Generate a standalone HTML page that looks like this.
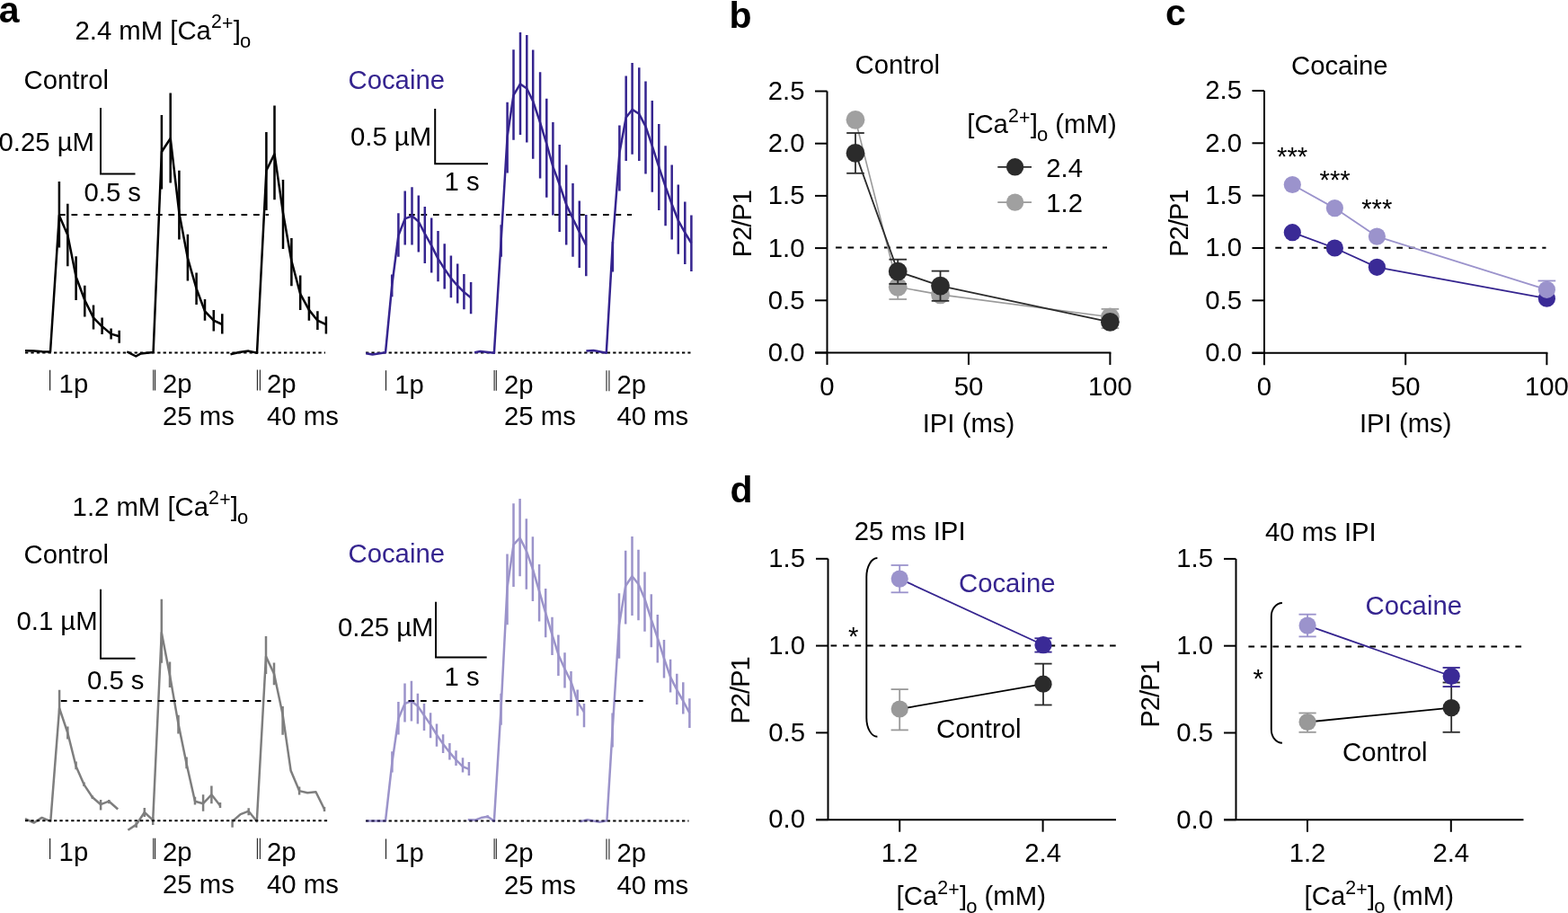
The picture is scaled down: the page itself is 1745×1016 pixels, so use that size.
<!DOCTYPE html>
<html><head><meta charset="utf-8"><title>Figure</title>
<style>
html,body{margin:0;padding:0;background:#fff;}
body{width:1745px;height:1016px;overflow:hidden;}
svg{display:block;}
text{font-family:"Liberation Sans", sans-serif;font-size:29.3px;}
</style></head>
<body>
<svg width="1745" height="1016" viewBox="0 0 1745 1016">
<rect width="1745" height="1016" fill="#fff"/>
<text x="-1.3" y="24.6" style="font-size:41px" font-weight="bold">a</text>
<text x="83.5" y="43.7">2.4 mM [Ca<tspan dy="-12.3" style="font-size:21.3px">2<tspan dx="0.3" dy="2">+</tspan></tspan><tspan dx="0.2" dy="10.3">]</tspan><tspan dx="-0.9" dy="9.2" style="font-size:22px">o</tspan><tspan dy="-9.2"></tspan></text>
<text x="26.5" y="99">Control</text>
<text x="-1.5" y="167.5">0.25 µM</text>
<path d="M112 120V193.5H150.5" fill="none" stroke="#000" stroke-width="2"/>
<text x="93.5" y="224.4">0.5 s</text>
<line x1="66" y1="239" x2="299" y2="239" stroke="#000" stroke-width="2" stroke-dasharray="6.7 6.8"/>
<line x1="28" y1="392.6" x2="362" y2="392.6" stroke="#000" stroke-width="2" stroke-dasharray="3.3 3.1"/>
<polyline points="28,390.3 38,390.6 47,391.3 56,391.5 65.9,239.8 75.3,261.5 84.6,308 94.3,334 104,353.6 113.6,363.3 123.6,371.6 132.7,374.2" fill="none" stroke="#000" stroke-width="2.5" stroke-linejoin="round"/>
<path d="M65.9 202V275.6 M75.3 226.8V296.2 M84.6 285.3V334 M94.3 317.8V352.5 M104 339.5V366.6 M113.6 353.6V372 M123.6 365.5V377.4 M132.7 367.7V381.8" stroke="#000" stroke-width="2.5" fill="none"/>
<polyline points="141.3,391.3 151.3,396.5 156.8,393.4 170.6,391.9 179.9,169 189.7,154 199.4,237 208.9,287.3 218.6,321.2 228,346.3 237.8,356.7 247.3,361" fill="none" stroke="#000" stroke-width="2.5" stroke-linejoin="round"/>
<path d="M179.9 128V210.5 M189.7 103.5V203.5 M199.4 189.8V266.6 M208.9 260.7V312.4 M218.6 303.5V339 M228 333V356.7 M237.8 344.9V368.5 M247.3 349.3V371.4" stroke="#000" stroke-width="2.5" fill="none"/>
<polyline points="256.5,394.2 266,392 276.6,390.6 286,392.7 296.4,189.8 305.5,171.4 315,237 324.4,290.2 334.2,327.1 343.9,344.9 353.4,356.7 362.9,361.1" fill="none" stroke="#000" stroke-width="2.5" stroke-linejoin="round"/>
<path d="M296.4 146.9V234 M305.5 117.4V222.3 M315 200V276.9 M324.4 265V318.3 M334.2 306.5V344.9 M343.9 330V356.7 M353.4 346.3V367 M362.9 352.2V371.4" stroke="#000" stroke-width="2.5" fill="none"/>
<text x="387.5" y="99" fill="#35248f">Cocaine</text>
<text x="390" y="161.9">0.5 µM</text>
<path d="M484.2 121V182.3H543" fill="none" stroke="#000" stroke-width="2"/>
<text x="494.5" y="211.5">1 s</text>
<line x1="455" y1="238.9" x2="703" y2="238.9" stroke="#000" stroke-width="2" stroke-dasharray="6.7 6.8"/>
<line x1="407" y1="392.6" x2="768.5" y2="392.6" stroke="#000" stroke-width="2" stroke-dasharray="3.3 3.1"/>
<polyline points="407.2,393.3 414.5,394.4 429,392.3 436.2,317.9 443.4,262 450.7,243.4 458.5,240.3 465.8,246.5 472.8,260 480.2,273.4 487.5,287.9 494.7,299.3 501.9,309.6 509.2,317.9 516.4,325.1 524.1,331.3" fill="none" stroke="#35248f" stroke-width="2.5" stroke-linejoin="round"/>
<path d="M436.2 305.5V330.3 M443.4 237.2V285.8 M450.7 212.4V272.4 M458.5 208.3V272.4 M465.8 217.6V280.6 M472.8 230V293 M480.2 242.4V303.4 M487.5 256.9V313.3 M494.7 271.3V321.6 M501.9 284.4V331.3 M509.2 293.5V337.5 M516.4 305V344.3 M524.1 314.1V349.3" stroke="#35248f" stroke-width="2.5" fill="none"/>
<polyline points="528.1,392.2 534.4,391 549.9,392.8 557.7,267 564.6,152.1 571.5,105.8 579,93.4 586.3,98.5 593.2,112.7 601.1,136.4 608.3,160 615.4,185.6 622.7,205.3 630.2,227.5 637.5,243.3 644.8,258.1 652.3,272.9" fill="none" stroke="#35248f" stroke-width="2.5" stroke-linejoin="round"/>
<path d="M557.7 250.2V285.7 M564.6 113.7V192.5 M571.5 55.2V155.7 M579 35.9V150.1 M586.3 38.9V158.4 M593.2 55.6V176.7 M601.1 80.2V198.4 M608.3 109.8V219.7 M615.4 136V239.4 M622.7 161V258.1 M630.2 183.6V272.5 M637.5 204V285.7 M644.8 223.6V298 M652.3 239V307.3" stroke="#35248f" stroke-width="2.5" fill="none"/>
<polyline points="652.4,390.5 660.5,389.9 674.8,392.8 681.9,270 689.4,170.1 696.7,130.8 703.6,121.9 711.3,126.8 718.5,140.6 725.8,162.3 733.3,185.9 740.6,207.6 747.7,227.3 754.8,245.3 762.3,259 769.4,270.5" fill="none" stroke="#35248f" stroke-width="2.5" stroke-linejoin="round"/>
<path d="M681.9 268.9V302.4 M689.4 139.6V212.5 M696.7 84.5V179 M703.6 70.1V171.7 M711.3 75.2V179 M718.5 90.4V193.4 M725.8 112V213.7 M733.3 138V234 M740.6 162.3V251.2 M747.7 183.5V266.6 M754.8 205.5V282.7 M762.3 224.6V294.1 M769.4 239.4V302" stroke="#35248f" stroke-width="2.5" fill="none"/>
<line x1="55.6" y1="411.8" x2="55.6" y2="434.6" stroke="#222" stroke-width="1.2"/>
<text x="65.6" y="436.6">1p</text>
<line x1="170.7" y1="411.4" x2="170.7" y2="434.6" stroke="#222" stroke-width="1.1"/>
<line x1="172.6" y1="411.4" x2="172.6" y2="434.6" stroke="#222" stroke-width="1.1"/>
<text x="181" y="436.6">2p</text>
<text x="181" y="473">25 ms</text>
<line x1="286.4" y1="411.4" x2="286.4" y2="434.6" stroke="#222" stroke-width="1.1"/>
<line x1="289.4" y1="411.4" x2="289.4" y2="434.6" stroke="#222" stroke-width="1.1"/>
<text x="297" y="436.6">2p</text>
<text x="297" y="473">40 ms</text>
<line x1="429.5" y1="412.2" x2="429.5" y2="434.6" stroke="#222" stroke-width="1.2"/>
<text x="439.3" y="437.5">1p</text>
<line x1="550.1" y1="412" x2="550.1" y2="434.7" stroke="#222" stroke-width="1.1"/>
<line x1="552.3" y1="412" x2="552.3" y2="434.7" stroke="#222" stroke-width="1.1"/>
<text x="561" y="437.5">2p</text>
<text x="561" y="473.2">25 ms</text>
<line x1="675" y1="412.2" x2="675" y2="435.2" stroke="#222" stroke-width="1.1"/>
<line x1="677.9" y1="412.2" x2="677.9" y2="435.2" stroke="#222" stroke-width="1.1"/>
<text x="686.4" y="437.5">2p</text>
<text x="686.4" y="473.2">40 ms</text>
<text x="80.6" y="573.75">1.2 mM [Ca<tspan dy="-12.3" style="font-size:21.3px">2<tspan dx="0.3" dy="2">+</tspan></tspan><tspan dx="0.2" dy="10.3">]</tspan><tspan dx="-0.9" dy="9.2" style="font-size:22px">o</tspan><tspan dy="-9.2"></tspan></text>
<text x="26.5" y="627.25">Control</text>
<text x="18.5" y="701.3">0.1 µM</text>
<path d="M112 655.7V732.7H150.5" fill="none" stroke="#000" stroke-width="2"/>
<text x="97" y="766.9">0.5 s</text>
<line x1="67.8" y1="780" x2="301.6" y2="780" stroke="#000" stroke-width="2" stroke-dasharray="6.7 6.8"/>
<line x1="28" y1="913.3" x2="364.4" y2="913.3" stroke="#000" stroke-width="2" stroke-dasharray="3.3 3.1"/>
<g opacity="0.5">
<polyline points="28,911.2 37.7,915.6 46.6,909.9 56.3,913.8 66.1,788.1 75.3,815.5 84.6,852.7 93.5,873.1 102.9,887.3 112.1,895.2 121.3,891.7 131.2,900.5" fill="none" stroke="#000" stroke-width="2.5" stroke-linejoin="round"/>
<path d="M66.1 767.7V792.5 M75.3 808.4V822.6 M84.6 847.4V856.3 M93.5 870.4V874.9 M102.9 885.5V889 M112.1 890V901.4 M121.3 890V894.3" stroke="#000" stroke-width="2.5" fill="none"/>
<polyline points="142.4,923.7 151.7,917.6 160.8,904 170.2,912.6 179.8,704.1 189,751.4 198.5,805.6 207.6,849.9 217,891.7 226.1,894.2 235.4,884.3 245,896.6" fill="none" stroke="#000" stroke-width="2.5" stroke-linejoin="round"/>
<path d="M179.8 666.8V737.7 M189 736.6V764.9 M198.5 795.7V816.6 M207.6 842.5V855.3 M217 886.8V895.4 M226.1 884.3V902.8 M235.4 874.5V894.2 M245 893V899 M151.7 915V921 M160.8 899V909 M170.2 910V918" stroke="#000" stroke-width="2.5" fill="none"/>
<polyline points="258.6,914 267.7,906.1 276.7,902.7 285.8,914 296,730.6 305,749.8 314.6,795.1 323.6,857.4 333.1,880.1 342.2,882.3 351.5,881.2 361,900.5" fill="none" stroke="#000" stroke-width="2.5" stroke-linejoin="round"/>
<path d="M258.6 911.8V920.8 M276.7 899.3V907.2 M296 707.9V750.1 M305 737.4V762.3 M314.6 786.1V817.8 M333.1 875.5V884.6 M361 898V903" stroke="#000" stroke-width="2.5" fill="none"/>
</g>
<text x="387.5" y="626.4" fill="#35248f">Cocaine</text>
<text x="376" y="708.1">0.25 µM</text>
<path d="M485 669.7V731.4H541.7" fill="none" stroke="#000" stroke-width="2"/>
<text x="494.5" y="763.3">1 s</text>
<line x1="454.5" y1="780.1" x2="715.6" y2="780.1" stroke="#000" stroke-width="2" stroke-dasharray="6.7 6.8"/>
<line x1="407" y1="913.6" x2="766.5" y2="913.6" stroke="#000" stroke-width="2" stroke-dasharray="3.3 3.1"/>
<g opacity="0.5">
<polyline points="407.5,913.5 429,913.5 436.4,848.4 443.4,799.8 450.5,783 457.9,780.2 464.9,785.8 472,796.1 479.1,806.4 486,817.6 493.1,827.9 500.4,837.2 507.5,845.6 515,853.1 521.9,855.9" fill="none" stroke="#3a2a96" stroke-width="2.5" stroke-linejoin="round"/>
<path d="M436.4 836.3V859.6 M443.4 781.1V817.6 M450.5 760.6V803.6 M457.9 757.8V802.6 M464.9 771.8V805.4 M472 783V812.9 M479.1 793.3V821.3 M486 805.4V830.7 M493.1 817.2V838.1 M500.4 826.9V845.6 M507.5 835.3V852.1 M515 843.2V859.6 M521.9 848V863" stroke="#3a2a96" stroke-width="2.5" fill="none"/>
<polyline points="520.7,912.2 529.3,912.5 535.4,910.1 542.7,908.8 549.9,913.6 557.6,788.2 564.5,654.1 571.5,606.1 578.6,598.5 585.8,613 593,633.6 600.1,657.9 607.2,682.1 614.5,706.4 621.6,728.9 628.7,744.8 635.6,758.8 642.7,781 650,792.4" fill="none" stroke="#3a2a96" stroke-width="2.5" stroke-linejoin="round"/>
<path d="M542.7 907.2V910.5 M557.6 771.7V806.8 M564.5 616.5V695.2 M571.5 560.2V653 M578.6 555.1V641.2 M585.8 577.3V655.8 M592.9 597.2V669.1 M600.1 627.9V691.5 M607.2 655V709.3 M614.5 686.8V728.9 M621.4 706.4V752 M628.5 726.2V765.5 M635.5 746.9V781 M642.7 767.5V796.5 M650 783V809.3" stroke="#3a2a96" stroke-width="2.5" fill="none"/>
<polyline points="645.4,914.3 653.7,912.2 667.1,914.7 675.4,913.3 681.6,813 689,695.5 696.2,652 703.5,641.2 710.5,650 717.5,666.5 724.8,689.3 731.8,709.9 739,732.7 746.1,753.4 753.3,767.8 760.3,780.2 767.4,793.4" fill="none" stroke="#3a2a96" stroke-width="2.5" stroke-linejoin="round"/>
<path d="M681.6 793.4V831.6 M689 660.3V732.7 M696.2 612.7V694.4 M703.5 597V685.1 M710.5 611.7V690.3 M717.5 636.5V702.7 M724.8 661.3V720.3 M731.8 684.1V737.4 M739 712V754.6 M746.1 733.7V770.6 M753.3 749.8V784.1 M760.3 759.3V794.4 M767.4 777.3V809.9" stroke="#3a2a96" stroke-width="2.5" fill="none"/>
</g>
<line x1="55.6" y1="933.1" x2="55.6" y2="955.9" stroke="#222" stroke-width="1.2"/>
<text x="65.6" y="957.9">1p</text>
<line x1="170.7" y1="932.7" x2="170.7" y2="955.9" stroke="#222" stroke-width="1.1"/>
<line x1="172.6" y1="932.7" x2="172.6" y2="955.9" stroke="#222" stroke-width="1.1"/>
<text x="181" y="957.9">2p</text>
<text x="181" y="994.3">25 ms</text>
<line x1="286.4" y1="932.7" x2="286.4" y2="955.9" stroke="#222" stroke-width="1.1"/>
<line x1="289.4" y1="932.7" x2="289.4" y2="955.9" stroke="#222" stroke-width="1.1"/>
<text x="297" y="957.9">2p</text>
<text x="297" y="994.3">40 ms</text>
<line x1="429.5" y1="933.5" x2="429.5" y2="955.9" stroke="#222" stroke-width="1.2"/>
<text x="439.3" y="958.8">1p</text>
<line x1="550.1" y1="933.3" x2="550.1" y2="956" stroke="#222" stroke-width="1.1"/>
<line x1="552.3" y1="933.3" x2="552.3" y2="956" stroke="#222" stroke-width="1.1"/>
<text x="561" y="958.8">2p</text>
<text x="561" y="994.5">25 ms</text>
<line x1="675" y1="933.5" x2="675" y2="956.5" stroke="#222" stroke-width="1.1"/>
<line x1="677.9" y1="933.5" x2="677.9" y2="956.5" stroke="#222" stroke-width="1.1"/>
<text x="686.4" y="958.8">2p</text>
<text x="686.4" y="994.5">40 ms</text>
<text x="811.6" y="30.6" style="font-size:41px" font-weight="bold">b</text>
<line x1="920.5" y1="101.5" x2="920.5" y2="406" stroke="#000" stroke-width="2"/>
<line x1="907" y1="392.5" x2="1236.4" y2="392.5" stroke="#000" stroke-width="2"/>
<line x1="907" y1="392.5" x2="920.5" y2="392.5" stroke="#000" stroke-width="2"/>
<text x="895.5" y="401.9" text-anchor="end">0.0</text>
<line x1="907" y1="334.3" x2="920.5" y2="334.3" stroke="#000" stroke-width="2"/>
<text x="895.5" y="343.7" text-anchor="end">0.5</text>
<line x1="907" y1="276.1" x2="920.5" y2="276.1" stroke="#000" stroke-width="2"/>
<text x="895.5" y="285.5" text-anchor="end">1.0</text>
<line x1="907" y1="217.9" x2="920.5" y2="217.9" stroke="#000" stroke-width="2"/>
<text x="895.5" y="227.3" text-anchor="end">1.5</text>
<line x1="907" y1="159.7" x2="920.5" y2="159.7" stroke="#000" stroke-width="2"/>
<text x="895.5" y="169.1" text-anchor="end">2.0</text>
<line x1="907" y1="101.5" x2="920.5" y2="101.5" stroke="#000" stroke-width="2"/>
<text x="895.5" y="110.9" text-anchor="end">2.5</text>
<line x1="1077.95" y1="392.5" x2="1077.95" y2="406" stroke="#000" stroke-width="2"/>
<line x1="1235.4" y1="392.5" x2="1235.4" y2="406" stroke="#000" stroke-width="2"/>
<text x="920.5" y="440" text-anchor="middle">0</text>
<text x="1077.95" y="440" text-anchor="middle">50</text>
<text x="1235.4" y="440" text-anchor="middle">100</text>
<text x="1077.95" y="481" text-anchor="middle">IPI (ms)</text>
<text x="951.5" y="82.4">Control</text>
<text x="836.5" y="249.3" text-anchor="middle" style="letter-spacing:-1.1px" transform="rotate(-90 836.5 249.3)">P2/P1</text>
<line x1="930" y1="275.6" x2="1232" y2="275.6" stroke="#000" stroke-width="2" stroke-dasharray="6.7 6.8"/>
<polyline points="951.99,133.3 999.2,319.3 1046.5,327.9 1235.4,352.8" fill="none" stroke="#9a9a9a" stroke-width="1.6" stroke-linejoin="round"/>
<path d="M999.2 305.5V333" stroke="#a0a0a0" stroke-width="1.8" fill="none"/>
<line x1="989.4" y1="305.5" x2="1009" y2="305.5" stroke="#a0a0a0" stroke-width="1.8"/>
<line x1="989.4" y1="333" x2="1009" y2="333" stroke="#a0a0a0" stroke-width="1.8"/>
<path d="M1235.4 343.9V365.2" stroke="#a0a0a0" stroke-width="1.8" fill="none"/>
<line x1="1225.6" y1="343.9" x2="1245.2" y2="343.9" stroke="#a0a0a0" stroke-width="1.8"/>
<line x1="1225.6" y1="365.2" x2="1245.2" y2="365.2" stroke="#a0a0a0" stroke-width="1.8"/>
<circle cx="951.99" cy="133.3" r="10.4" fill="#a0a0a0"/>
<circle cx="999.2" cy="319.3" r="10.4" fill="#a0a0a0"/>
<circle cx="1046.5" cy="327.9" r="10.4" fill="#a0a0a0"/>
<circle cx="1235.4" cy="352.8" r="10.4" fill="#a0a0a0"/>
<path d="M951.99 148V192.8" stroke="#2b2b2b" stroke-width="1.8" fill="none"/>
<line x1="942.19" y1="148" x2="961.79" y2="148" stroke="#2b2b2b" stroke-width="1.8"/>
<line x1="942.19" y1="192.8" x2="961.79" y2="192.8" stroke="#2b2b2b" stroke-width="1.8"/>
<path d="M999.2 288.7V315.9" stroke="#2b2b2b" stroke-width="1.8" fill="none"/>
<line x1="989.4" y1="288.7" x2="1009" y2="288.7" stroke="#2b2b2b" stroke-width="1.8"/>
<line x1="989.4" y1="315.9" x2="1009" y2="315.9" stroke="#2b2b2b" stroke-width="1.8"/>
<path d="M1046.5 301.6V334.8" stroke="#2b2b2b" stroke-width="1.8" fill="none"/>
<line x1="1036.7" y1="301.6" x2="1056.3" y2="301.6" stroke="#2b2b2b" stroke-width="1.8"/>
<line x1="1036.7" y1="334.8" x2="1056.3" y2="334.8" stroke="#2b2b2b" stroke-width="1.8"/>
<polyline points="951.99,170.4 999.2,302.1 1046.5,318.1 1235.4,358.3" fill="none" stroke="#2b2b2b" stroke-width="1.8" stroke-linejoin="round"/>
<circle cx="951.99" cy="170.4" r="10.4" fill="#2b2b2b"/>
<circle cx="999.2" cy="302.1" r="10.4" fill="#2b2b2b"/>
<circle cx="1046.5" cy="318.1" r="10.4" fill="#2b2b2b"/>
<circle cx="1235.4" cy="358.3" r="10.4" fill="#2b2b2b"/>
<text x="1076.3" y="148">[Ca<tspan dy="-12.3" style="font-size:21.3px">2<tspan dx="0.3" dy="2">+</tspan></tspan><tspan dx="0.2" dy="10.3">]</tspan><tspan dx="-0.9" dy="9.2" style="font-size:22px">o</tspan><tspan dy="-9.2"> (mM)</tspan></text>
<line x1="1110.3" y1="185.8" x2="1148" y2="185.8" stroke="#2b2b2b" stroke-width="1.8"/>
<circle cx="1129.6" cy="185.8" r="9.7" fill="#2b2b2b"/>
<text x="1164.3" y="196.8">2.4</text>
<line x1="1110.3" y1="225.1" x2="1148" y2="225.1" stroke="#9a9a9a" stroke-width="1.6"/>
<circle cx="1129.6" cy="225.1" r="9.7" fill="#a0a0a0"/>
<text x="1164.3" y="236.1">1.2</text>
<text x="1297" y="28" style="font-size:41px" font-weight="bold">c</text>
<line x1="1407" y1="100.95" x2="1407" y2="406.2" stroke="#000" stroke-width="2"/>
<line x1="1393.5" y1="392.7" x2="1722.4" y2="392.7" stroke="#000" stroke-width="2"/>
<line x1="1393.5" y1="392.7" x2="1407" y2="392.7" stroke="#000" stroke-width="2"/>
<text x="1382" y="402.1" text-anchor="end">0.0</text>
<line x1="1393.5" y1="334.35" x2="1407" y2="334.35" stroke="#000" stroke-width="2"/>
<text x="1382" y="343.75" text-anchor="end">0.5</text>
<line x1="1393.5" y1="276" x2="1407" y2="276" stroke="#000" stroke-width="2"/>
<text x="1382" y="285.4" text-anchor="end">1.0</text>
<line x1="1393.5" y1="217.65" x2="1407" y2="217.65" stroke="#000" stroke-width="2"/>
<text x="1382" y="227.05" text-anchor="end">1.5</text>
<line x1="1393.5" y1="159.3" x2="1407" y2="159.3" stroke="#000" stroke-width="2"/>
<text x="1382" y="168.7" text-anchor="end">2.0</text>
<line x1="1393.5" y1="100.95" x2="1407" y2="100.95" stroke="#000" stroke-width="2"/>
<text x="1382" y="110.35" text-anchor="end">2.5</text>
<line x1="1564.2" y1="392.7" x2="1564.2" y2="406.2" stroke="#000" stroke-width="2"/>
<line x1="1721.4" y1="392.7" x2="1721.4" y2="406.2" stroke="#000" stroke-width="2"/>
<text x="1407" y="440" text-anchor="middle">0</text>
<text x="1564.2" y="440" text-anchor="middle">50</text>
<text x="1721.4" y="440" text-anchor="middle">100</text>
<text x="1564.2" y="481" text-anchor="middle">IPI (ms)</text>
<text x="1437" y="82.7">Cocaine</text>
<text x="1322.3" y="248.8" text-anchor="middle" style="letter-spacing:-1.1px" transform="rotate(-90 1322.3 248.8)">P2/P1</text>
<line x1="1419.3" y1="275.8" x2="1720.5" y2="275.8" stroke="#000" stroke-width="2" stroke-dasharray="6.7 6.8"/>
<path d="M1721.4 312.5V332" stroke="#9b93cc" stroke-width="1.8" fill="none"/>
<line x1="1711.6" y1="312.5" x2="1731.2" y2="312.5" stroke="#9b93cc" stroke-width="1.8"/>
<polyline points="1438.3,205.5 1485.4,231.6 1532.4,263.1 1721.4,322.3" fill="none" stroke="#9b93cc" stroke-width="1.8" stroke-linejoin="round"/>
<polyline points="1438.3,258.7 1485.4,276 1532.4,297.3 1721.4,332.2" fill="none" stroke="#35248f" stroke-width="1.8" stroke-linejoin="round"/>
<circle cx="1438.3" cy="258.7" r="9.6" fill="#3a2a96"/>
<circle cx="1485.4" cy="276" r="9.6" fill="#3a2a96"/>
<circle cx="1532.4" cy="297.3" r="9.6" fill="#3a2a96"/>
<circle cx="1721.4" cy="332.2" r="9.6" fill="#3a2a96"/>
<circle cx="1438.3" cy="205.5" r="9.6" fill="#9b93cc"/>
<circle cx="1485.4" cy="231.6" r="9.6" fill="#9b93cc"/>
<circle cx="1532.4" cy="263.1" r="9.6" fill="#9b93cc"/>
<circle cx="1721.4" cy="322.3" r="9.6" fill="#9b93cc"/>
<text x="1421" y="183.5">***</text>
<text x="1468.5" y="210">***</text>
<text x="1515.2" y="242">***</text>
<text x="812.5" y="558.5" style="font-size:41px" font-weight="bold">d</text>
<line x1="921.5" y1="621.8" x2="921.5" y2="912.2" stroke="#000" stroke-width="2"/>
<line x1="908" y1="912.2" x2="1242" y2="912.2" stroke="#000" stroke-width="2"/>
<line x1="908" y1="912.2" x2="921.5" y2="912.2" stroke="#000" stroke-width="2"/>
<text x="896" y="921.4" text-anchor="end">0.0</text>
<line x1="908" y1="815.4" x2="921.5" y2="815.4" stroke="#000" stroke-width="2"/>
<text x="896" y="824.6" text-anchor="end">0.5</text>
<line x1="908" y1="718.6" x2="921.5" y2="718.6" stroke="#000" stroke-width="2"/>
<text x="896" y="727.8" text-anchor="end">1.0</text>
<line x1="908" y1="621.8" x2="921.5" y2="621.8" stroke="#000" stroke-width="2"/>
<text x="896" y="631" text-anchor="end">1.5</text>
<line x1="1001.2" y1="912.2" x2="1001.2" y2="925.7" stroke="#000" stroke-width="2"/>
<text x="1001.2" y="958.9" text-anchor="middle">1.2</text>
<line x1="1160.6" y1="912.2" x2="1160.6" y2="925.7" stroke="#000" stroke-width="2"/>
<text x="1160.6" y="958.9" text-anchor="middle">2.4</text>
<text x="997.6" y="1007">[Ca<tspan dy="-12.3" style="font-size:21.3px">2<tspan dx="0.3" dy="2">+</tspan></tspan><tspan dx="0.2" dy="10.3">]</tspan><tspan dx="-0.9" dy="9.2" style="font-size:22px">o</tspan><tspan dy="-9.2"> (mM)</tspan></text>
<text x="950.8" y="600.6">25 ms IPI</text>
<text x="834.2" y="768.5" text-anchor="middle" style="letter-spacing:-1.1px" transform="rotate(-90 834.2 768.5)">P2/P1</text>
<line x1="924.5" y1="718.4" x2="1242" y2="718.4" stroke="#000" stroke-width="2" stroke-dasharray="6.7 6.8"/>
<line x1="1001.2" y1="644.1" x2="1161" y2="717.7" stroke="#35248f" stroke-width="1.8"/>
<line x1="1001.2" y1="789" x2="1161" y2="761.2" stroke="#000" stroke-width="1.8"/>
<path d="M1001.2 629V659.3" stroke="#9b93cc" stroke-width="1.8" fill="none"/>
<line x1="991.6" y1="629" x2="1010.8" y2="629" stroke="#9b93cc" stroke-width="1.8"/>
<line x1="991.6" y1="659.3" x2="1010.8" y2="659.3" stroke="#9b93cc" stroke-width="1.8"/>
<circle cx="1001.2" cy="644.1" r="9.6" fill="#9b93cc"/>
<path d="M1161 710.3V725.6" stroke="#35248f" stroke-width="1.8" fill="none"/>
<line x1="1151.4" y1="710.3" x2="1170.6" y2="710.3" stroke="#35248f" stroke-width="1.8"/>
<line x1="1151.4" y1="725.6" x2="1170.6" y2="725.6" stroke="#35248f" stroke-width="1.8"/>
<circle cx="1161" cy="717.7" r="9.6" fill="#3a2a96"/>
<path d="M1001.2 767.1V812.4" stroke="#999" stroke-width="1.8" fill="none"/>
<line x1="991.6" y1="767.1" x2="1010.8" y2="767.1" stroke="#999" stroke-width="1.8"/>
<line x1="991.6" y1="812.4" x2="1010.8" y2="812.4" stroke="#999" stroke-width="1.8"/>
<circle cx="1001.2" cy="789" r="9.6" fill="#999"/>
<path d="M1161 738.6V784.5" stroke="#2b2b2b" stroke-width="1.8" fill="none"/>
<line x1="1151.4" y1="738.6" x2="1170.6" y2="738.6" stroke="#2b2b2b" stroke-width="1.8"/>
<line x1="1151.4" y1="784.5" x2="1170.6" y2="784.5" stroke="#2b2b2b" stroke-width="1.8"/>
<circle cx="1161" cy="761.2" r="9.6" fill="#2b2b2b"/>
<text x="1067" y="658.9" fill="#35248f">Cocaine</text>
<text x="1042" y="820.7">Control</text>
<path d="M976.4 621A12.1 21 0 0 0 964.3 642V798.8A12.1 21 0 0 0 976.4 819.8" fill="none" stroke="#000" stroke-width="1.9"/>
<text x="944" y="717.7">*</text>
<line x1="1375.5" y1="621.9" x2="1375.5" y2="912.3" stroke="#000" stroke-width="2"/>
<line x1="1362" y1="912.3" x2="1695.5" y2="912.3" stroke="#000" stroke-width="2"/>
<line x1="1362" y1="912.3" x2="1375.5" y2="912.3" stroke="#000" stroke-width="2"/>
<text x="1350" y="921.5" text-anchor="end">0.0</text>
<line x1="1362" y1="815.5" x2="1375.5" y2="815.5" stroke="#000" stroke-width="2"/>
<text x="1350" y="824.7" text-anchor="end">0.5</text>
<line x1="1362" y1="718.7" x2="1375.5" y2="718.7" stroke="#000" stroke-width="2"/>
<text x="1350" y="727.9" text-anchor="end">1.0</text>
<line x1="1362" y1="621.9" x2="1375.5" y2="621.9" stroke="#000" stroke-width="2"/>
<text x="1350" y="631.1" text-anchor="end">1.5</text>
<line x1="1455" y1="912.3" x2="1455" y2="925.8" stroke="#000" stroke-width="2"/>
<text x="1455" y="958.9" text-anchor="middle">1.2</text>
<line x1="1614.8" y1="912.3" x2="1614.8" y2="925.8" stroke="#000" stroke-width="2"/>
<text x="1614.8" y="958.9" text-anchor="middle">2.4</text>
<text x="1451.6" y="1007">[Ca<tspan dy="-12.3" style="font-size:21.3px">2<tspan dx="0.3" dy="2">+</tspan></tspan><tspan dx="0.2" dy="10.3">]</tspan><tspan dx="-0.9" dy="9.2" style="font-size:22px">o</tspan><tspan dy="-9.2"> (mM)</tspan></text>
<text x="1408" y="602.1">40 ms IPI</text>
<text x="1290" y="772.5" text-anchor="middle" style="letter-spacing:-1.1px" transform="rotate(-90 1290 772.5)">P2/P1</text>
<line x1="1389.4" y1="719.5" x2="1695.5" y2="719.5" stroke="#000" stroke-width="2" stroke-dasharray="6.7 6.8"/>
<line x1="1455.1" y1="696.1" x2="1615.2" y2="752.5" stroke="#35248f" stroke-width="1.8"/>
<line x1="1455.1" y1="803.5" x2="1615.2" y2="787.6" stroke="#000" stroke-width="1.8"/>
<path d="M1455.1 683.7V708.4" stroke="#9b93cc" stroke-width="1.8" fill="none"/>
<line x1="1445.5" y1="683.7" x2="1464.7" y2="683.7" stroke="#9b93cc" stroke-width="1.8"/>
<line x1="1445.5" y1="708.4" x2="1464.7" y2="708.4" stroke="#9b93cc" stroke-width="1.8"/>
<circle cx="1455.1" cy="696.1" r="9.6" fill="#9b93cc"/>
<path d="M1455.1 793.5V814.8" stroke="#999" stroke-width="1.8" fill="none"/>
<line x1="1445.5" y1="793.5" x2="1464.7" y2="793.5" stroke="#999" stroke-width="1.8"/>
<line x1="1445.5" y1="814.8" x2="1464.7" y2="814.8" stroke="#999" stroke-width="1.8"/>
<circle cx="1455.1" cy="803.5" r="9.6" fill="#999"/>
<path d="M1615.2 759.5V814.8" stroke="#2b2b2b" stroke-width="1.8" fill="none"/>
<line x1="1605.6" y1="759.5" x2="1624.8" y2="759.5" stroke="#2b2b2b" stroke-width="1.8"/>
<line x1="1605.6" y1="814.8" x2="1624.8" y2="814.8" stroke="#2b2b2b" stroke-width="1.8"/>
<circle cx="1615.2" cy="787.6" r="9.6" fill="#2b2b2b"/>
<path d="M1615.2 743V764.1" stroke="#35248f" stroke-width="1.8" fill="none"/>
<line x1="1605.6" y1="743" x2="1624.8" y2="743" stroke="#35248f" stroke-width="1.8"/>
<line x1="1605.6" y1="764.1" x2="1624.8" y2="764.1" stroke="#35248f" stroke-width="1.8"/>
<circle cx="1615.2" cy="752.5" r="9.6" fill="#3a2a96"/>
<text x="1519.5" y="684.1" fill="#35248f">Cocaine</text>
<text x="1494" y="847.2">Control</text>
<path d="M1426.9 671A12.1 15 0 0 0 1414.8 686V811.7A12.1 15 0 0 0 1426.9 826.7" fill="none" stroke="#000" stroke-width="1.9"/>
<text x="1394.5" y="765">*</text>
</svg>
</body></html>
